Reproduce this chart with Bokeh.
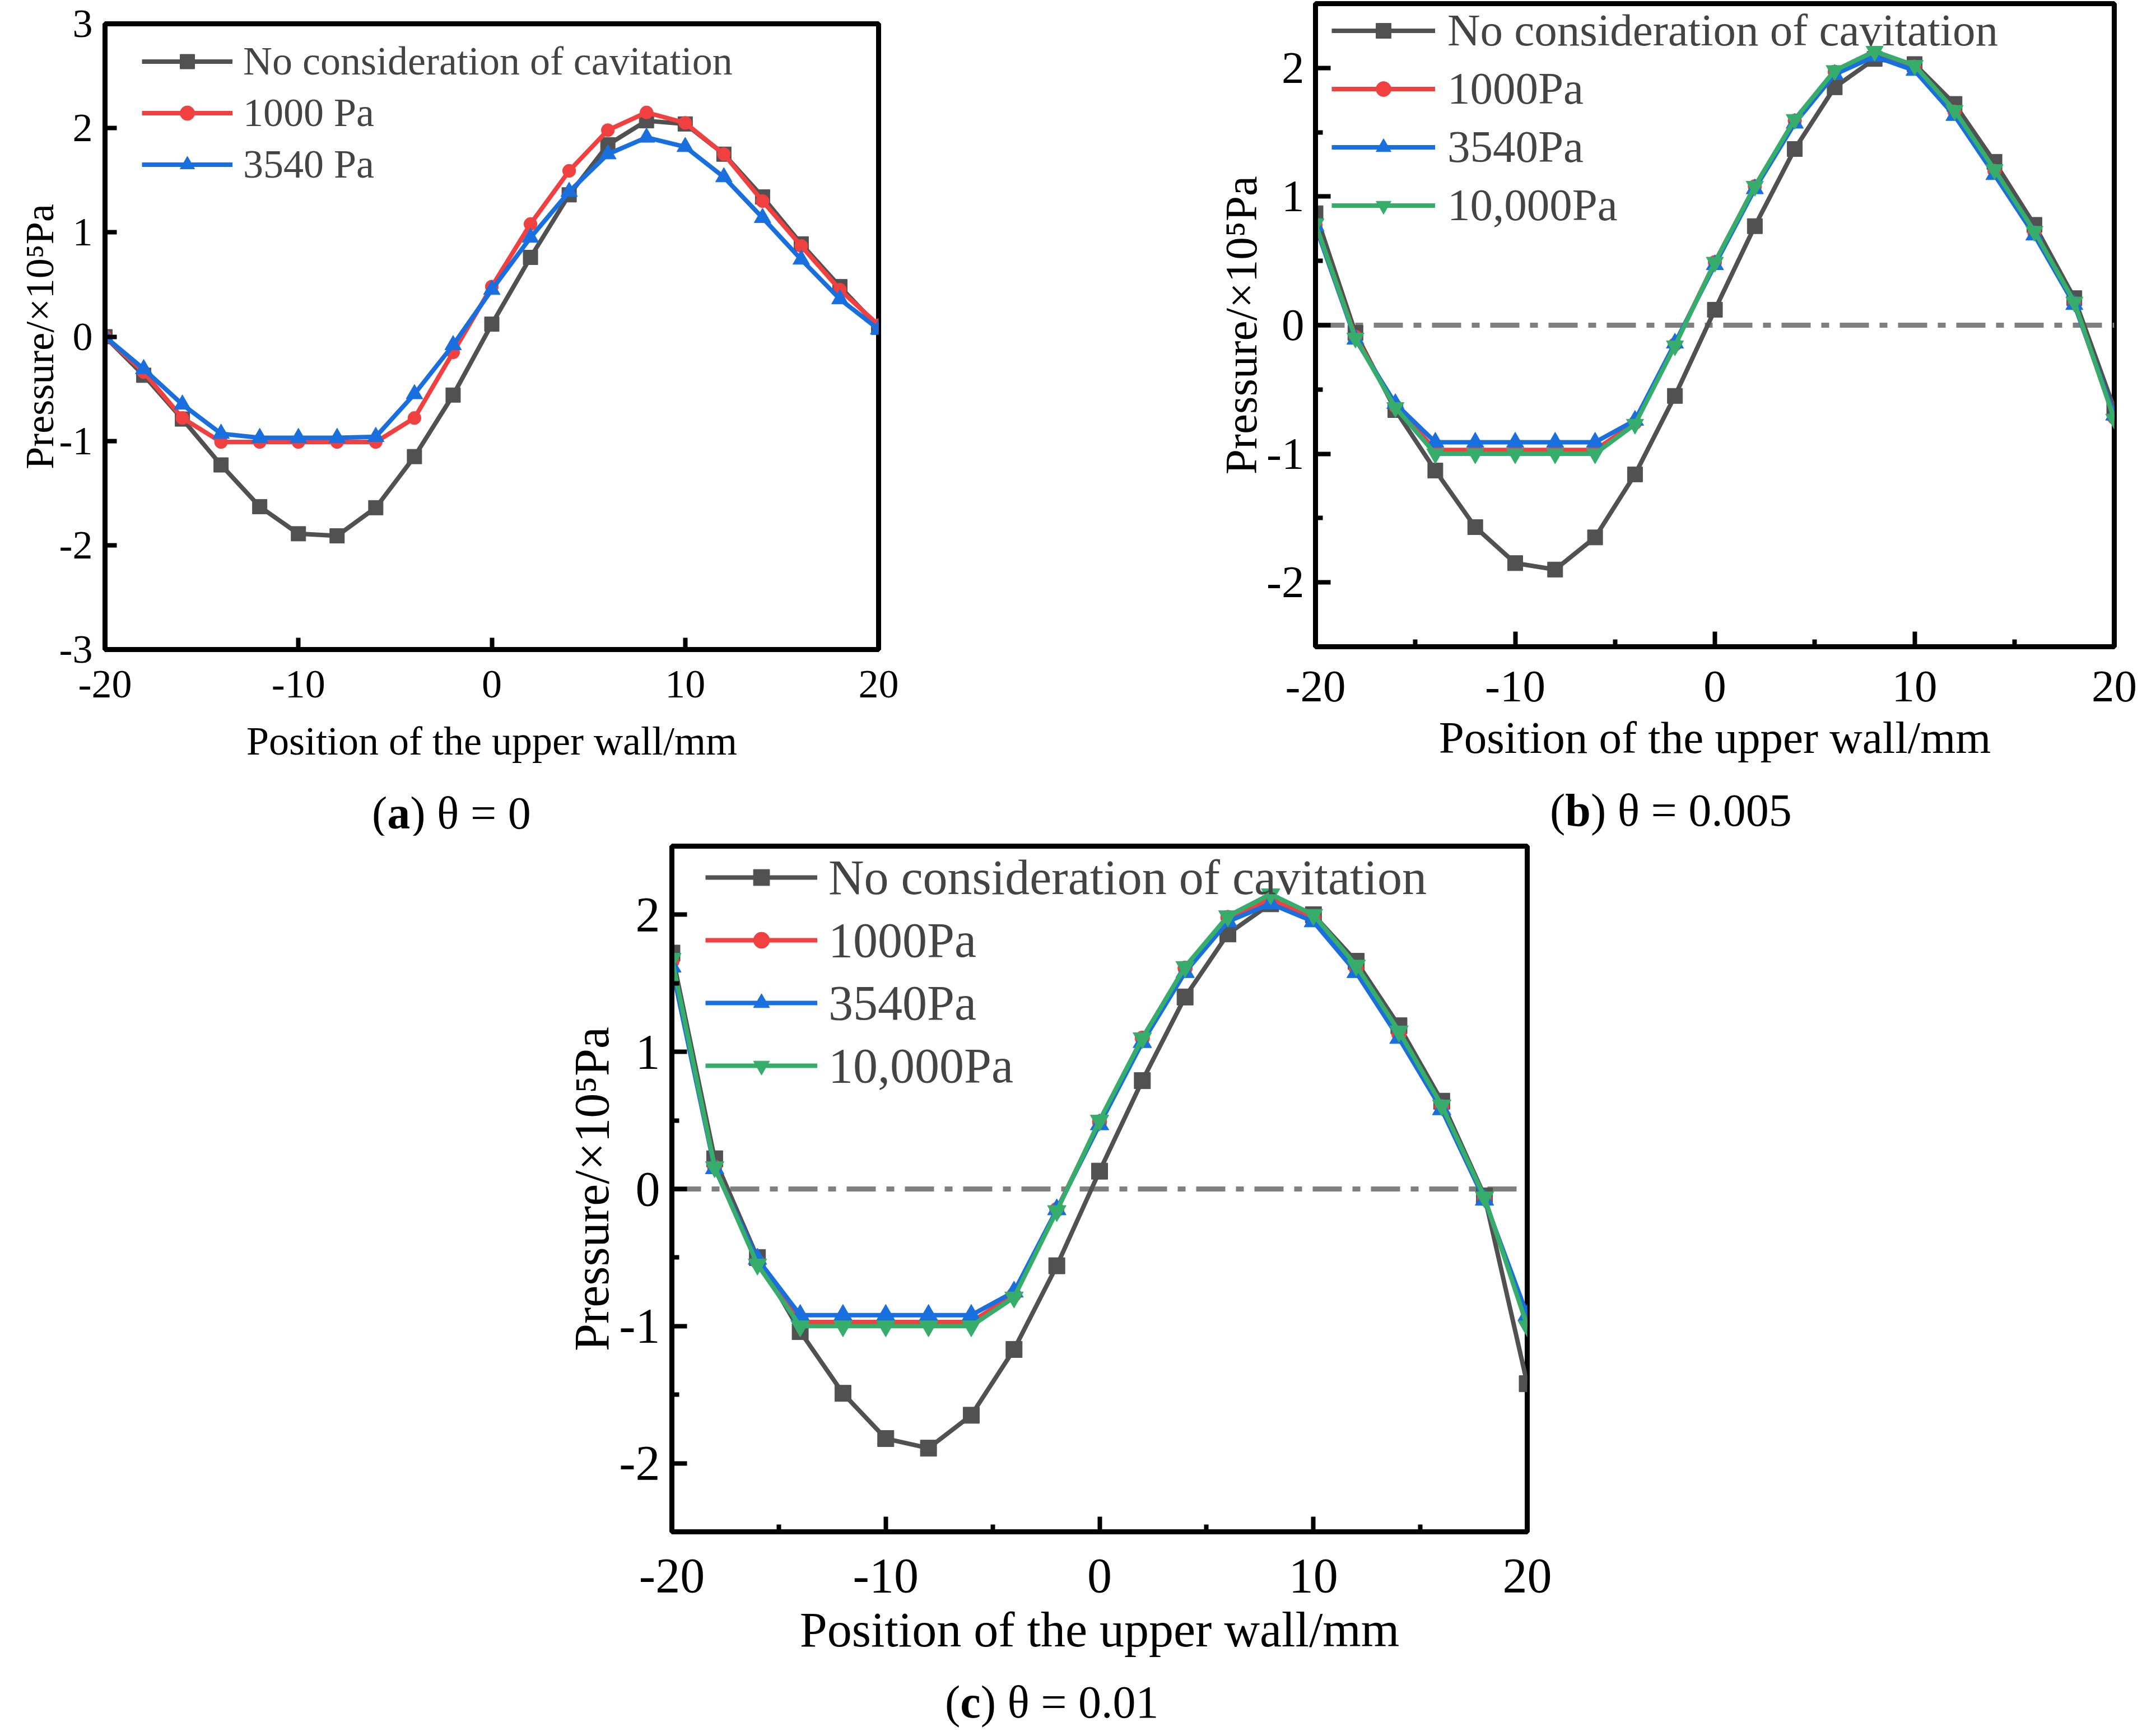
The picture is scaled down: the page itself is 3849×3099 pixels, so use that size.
from bokeh.embed import file_html
from bokeh.layouts import column, row
from bokeh.models import (Div, FixedTicker, Legend, LegendItem, PrintfTickFormatter,
                          Range1d, Span)
from bokeh.plotting import figure
from bokeh.resources import INLINE

FONT = "Liberation Serif"

# position along the upper wall, mm
x = [-20, -18, -16, -14, -12, -10, -8, -6, -4, -2, 0, 2, 4, 6, 8, 10, 12, 14, 16, 18, 20]

# (a) theta = 0, pressure in 1e5 Pa
a_none = [0.00, -0.37, -0.79, -1.23, -1.63, -1.89, -1.91, -1.64, -1.15, -0.56, 0.12,
          0.76, 1.36, 1.84, 2.07, 2.04, 1.75, 1.34, 0.89, 0.48, 0.09]
a_1000 = [0.00, -0.34, -0.78, -1.01, -1.01, -1.01, -1.01, -1.01, -0.78, -0.15, 0.48,
          1.08, 1.59, 1.98, 2.15, 2.05, 1.75, 1.30, 0.87, 0.45, 0.11]
a_3540 = [0.00, -0.31, -0.65, -0.93, -0.97, -0.97, -0.97, -0.96, -0.55, -0.08, 0.45,
          0.95, 1.39, 1.75, 1.91, 1.82, 1.53, 1.14, 0.74, 0.36, 0.07]

# (b) theta = 0.005
b_none = [0.87, -0.06, -0.66, -1.13, -1.57, -1.85, -1.90, -1.65, -1.16, -0.55, 0.12,
          0.77, 1.37, 1.85, 2.07, 2.03, 1.72, 1.27, 0.78, 0.21, -0.65]
b_1000 = [0.78, -0.09, -0.63, -0.97, -0.97, -0.97, -0.97, -0.97, -0.76, -0.15, 0.49,
          1.08, 1.59, 1.97, 2.11, 2.01, 1.66, 1.20, 0.72, 0.17, -0.72]
b_3540 = [0.77, -0.11, -0.61, -0.91, -0.91, -0.91, -0.91, -0.91, -0.74, -0.14, 0.47,
          1.06, 1.57, 1.95, 2.09, 1.98, 1.63, 1.17, 0.70, 0.16, -0.70]
b_10000 = [0.79, -0.10, -0.64, -1.00, -1.00, -1.00, -1.00, -1.00, -0.77, -0.16, 0.49,
           1.08, 1.60, 1.98, 2.13, 2.02, 1.67, 1.21, 0.73, 0.18, -0.73]

# (c) theta = 0.01
c_none = [1.72, 0.22, -0.50, -1.04, -1.49, -1.82, -1.89, -1.65, -1.17, -0.56, 0.13,
          0.79, 1.40, 1.86, 2.08, 2.00, 1.66, 1.19, 0.64, -0.05, -1.42]
c_1000 = [1.66, 0.16, -0.53, -0.97, -0.97, -0.97, -0.97, -0.97, -0.77, -0.15, 0.49,
          1.10, 1.61, 1.98, 2.11, 1.98, 1.61, 1.13, 0.60, -0.07, -0.97]
c_3540 = [1.62, 0.15, -0.51, -0.92, -0.92, -0.92, -0.92, -0.92, -0.75, -0.15, 0.47,
          1.07, 1.58, 1.95, 2.08, 1.95, 1.58, 1.10, 0.58, -0.08, -0.92]
c_10000 = [1.68, 0.16, -0.55, -1.00, -1.00, -1.00, -1.00, -1.00, -0.79, -0.16, 0.50,
           1.10, 1.62, 1.99, 2.15, 2.00, 1.63, 1.15, 0.61, -0.06, -1.00]

x_ticks = [-20, -10, 0, 10, 20]
x_minor = [-15, -5, 5, 15]
y_ticks_a = [-3, -2, -1, 0, 1, 2, 3]
y_ticks_bc = [-2, -1, 0, 1, 2]
y_minor_bc = [-2.5, -1.5, -0.5, 0.5, 1.5, 2.5]

COLORS = {"none": "#515151", "1000": "#f14040", "3540": "#1a6fdf", "10000": "#37ad6b"}
MARKERS = {"none": "square", "1000": "circle", "3540": "triangle", "10000": "inverted_triangle"}
MSCALE = {"none": 1.0, "1000": 0.9, "3540": 1.15, "10000": 1.15}


def make_panel(series, labels, ylim, yticks, yminor, xminor, fs, msize, geo, stand, leg):
    # geo = (left, frame_w, right, top, frame_h, bottom)
    left, fw, right, top, fh, bottom = geo
    p = figure(frame_width=fw, frame_height=fh,
               min_border_left=left, min_border_right=right,
               min_border_top=top, min_border_bottom=bottom,
               x_range=Range1d(-20, 20), y_range=Range1d(*ylim),
               output_backend="svg", toolbar_location=None)
    p.grid.visible = False
    p.outline_line_color = "black"
    p.outline_line_width = 9
    p.outline_line_alpha = 1

    p.xaxis.ticker = FixedTicker(ticks=x_ticks, minor_ticks=xminor)
    p.yaxis.ticker = FixedTicker(ticks=yticks, minor_ticks=yminor)
    p.xaxis.axis_label = "Position of the upper wall/mm"
    p.yaxis.axis_label = "Pressure/×10⁵Pa"
    tick_in = 21 if not yminor else 27
    for ax in (p.xaxis, p.yaxis):
        ax.formatter = PrintfTickFormatter(format="%d")
        ax.axis_line_width = 9
        ax.axis_line_color = "black"
        ax.major_tick_in = tick_in
        ax.major_tick_out = 0
        ax.minor_tick_in = 13
        ax.minor_tick_out = 0
        ax.major_tick_line_width = 8
        ax.minor_tick_line_width = 8
        ax.major_tick_line_color = "black"
        ax.minor_tick_line_color = "black"
        ax.major_label_text_font = FONT
        ax.major_label_text_font_size = f"{fs}px"
        ax.major_label_text_color = "black"
        ax.axis_label_text_font = FONT
        ax.axis_label_text_font_size = f"{fs}px"
        ax.axis_label_text_font_style = "normal"
        ax.axis_label_text_color = "black"
    xs_tick, xs_lab, ys_tick, ys_lab = stand
    p.xaxis.major_label_standoff = xs_tick
    p.xaxis.axis_label_standoff = xs_lab
    p.yaxis.major_label_standoff = ys_tick
    p.yaxis.axis_label_standoff = ys_lab

    if yminor:
        p.add_layout(Span(location=0, dimension="width", line_color="#808080",
                          line_width=9, line_dash="52 19 14 19", level="underlay"))

    items = []
    for key, ys in series:
        ln = p.line(x, ys, line_color=COLORS[key], line_width=8)
        sc = p.scatter(x, ys, marker=MARKERS[key], size=msize * MSCALE[key],
                       color=COLORS[key])
        items.append(LegendItem(label=labels[key], renderers=[ln, sc]))

    lx, ltop, pitch, gw, gstand = leg
    n = len(items)
    legend = Legend(items=items, location=(lx, fh - ltop - n * pitch),
                    glyph_width=gw, glyph_height=int(msize / 0.4),
                    label_height=pitch, spacing=0, padding=0, margin=0,
                    label_standoff=gstand,
                    label_text_font=FONT, label_text_font_size=f"{fs}px",
                    border_line_alpha=0, background_fill_alpha=0)
    p.add_layout(legend)
    return p


def caption(letter, rest, pad_left, width):
    html = (f'<div style="padding-left:{pad_left}px; font-family:\'{FONT}\'; '
            f'font-size:82px; line-height:1; color:black; white-space:nowrap">'
            f'(<b>{letter}</b>) {rest}</div>')
    return Div(text=html, width=width, height=80, margin=(0, 0, 0, 0))


labels_a = {"none": "No consideration of cavitation", "1000": "1000 Pa", "3540": "3540 Pa"}
labels_bc = {"none": "No consideration of cavitation", "1000": "1000Pa",
             "3540": "3540Pa", "10000": "10,000Pa"}

pa = make_panel([("none", a_none), ("1000", a_1000), ("3540", a_3540)], labels_a,
                (-3, 3), y_ticks_a, [], [], 72, 26,
                (187, 1381, 332, 42, 1117, 252),
                (38, 35, 22, -8),
                (66, 21, 92, 162, 19))

pb = make_panel([("none", b_none), ("1000", b_1000), ("3540", b_3540), ("10000", b_10000)],
                labels_bc, (-2.5, 2.5), y_ticks_bc, y_minor_bc, x_minor, 81, 27,
                (448, 1426, 59, 6, 1148, 252),
                (44, 17, 20, -3),
                (29, -4, 104, 185, 22))

pc = make_panel([("none", c_none), ("1000", c_1000), ("3540", c_3540), ("10000", c_10000)],
                labels_bc, (-2.5, 2.5), y_ticks_bc, y_minor_bc, x_minor, 88, 29,
                (1199, 1527, 100, 19, 1224, 264),
                (49, 16, 21, -3),
                (60, 0, 112, 200, 20))

col_a = column(pa, caption("a", "θ = 0", 664, 1900))
col_b = column(pb, caption("b", "θ = 0.005", 867, 1933))
col_c = column(pc, caption("c", "θ = 0.01", 1687, 2826))

layout = column(row(col_a, col_b), col_c)

open("out.html", "w").write(file_html(layout, INLINE))
